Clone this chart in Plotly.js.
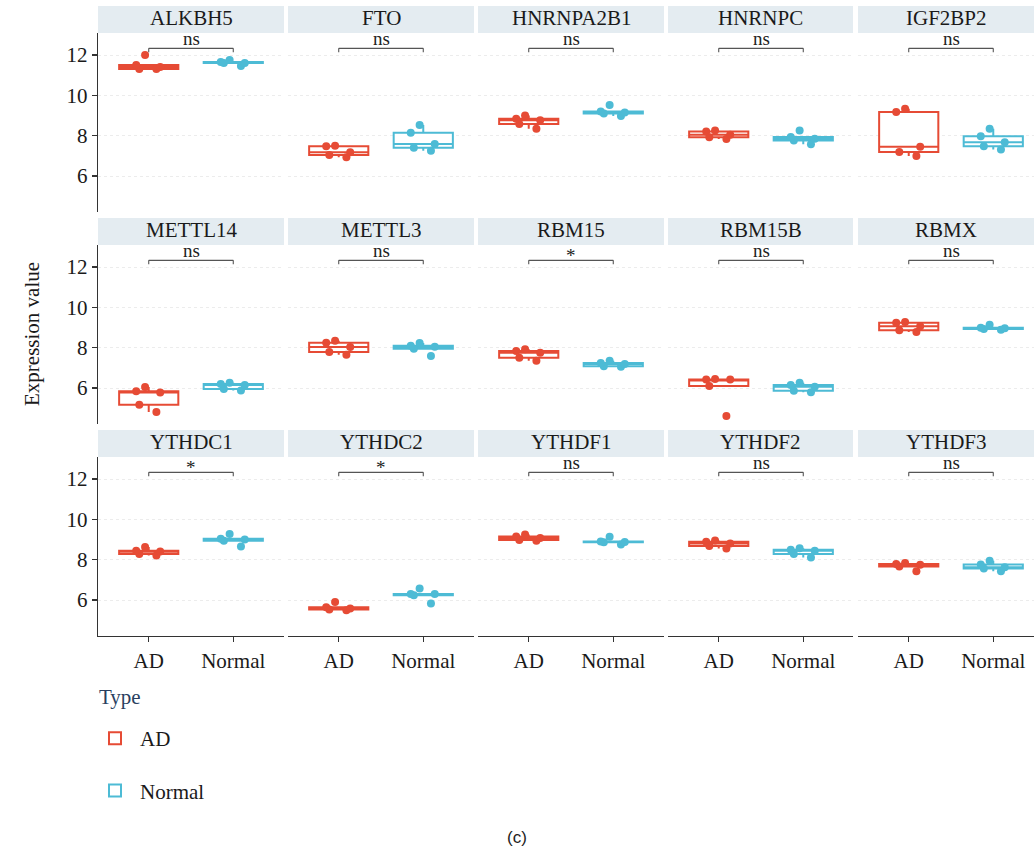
<!DOCTYPE html>
<html>
<head>
<meta charset="utf-8">
<script src="https://cdn.plot.ly/plotly-3.0.1.min.js"></script>
<style>html,body{margin:0;padding:0;background:#fff;}#chart{width:1034px;height:850px;}</style>
</head>
<body>
<div id="chart"></div>
<script>
// ---------------- data ----------------
const genes = ['ALKBH5','FTO','HNRNPA2B1','HNRNPC','IGF2BP2','METTL14','METTL3','RBM15','RBM15B','RBMX','YTHDC1','YTHDC2','YTHDF1','YTHDF2','YTHDF3'];
const groups = ['AD','Normal'];
const adValues = [
  [12.0, 11.3, 11.5, 11.3, 11.4],
  [6.93, 7.05, 7.5, 7.48, 7.18],
  [8.58, 8.35, 8.84, 9.0, 8.77],
  [8.21, 8.26, 7.84, 7.92, 8.05],
  [9.34, 9.18, 7.45, 7.19, 7.0],
  [5.78, 6.05, 5.84, 5.17, 4.81],
  [7.65, 8.03, 7.79, 8.35, 8.25],
  [7.84, 7.75, 7.92, 7.5, 7.35],
  [6.45, 6.43, 6.42, 6.1, 4.62],
  [9.06, 9.27, 9.24, 8.86, 8.78],
  [8.21, 8.63, 8.28, 8.44, 8.41],
  [5.5, 5.91, 5.65, 5.53, 5.58],
  [9.25, 8.98, 9.15, 8.94, 9.08],
  [8.68, 8.89, 8.95, 8.55, 8.8],
  [7.43, 7.79, 7.84, 7.66, 7.75]
];
const normalValues = [
  [11.75, 11.45, 11.65, 11.6, 11.6],
  [8.53, 8.15, 7.59, 7.26, 7.4],
  [9.52, 9.2, 8.98, 9.15, 9.1],
  [8.26, 7.94, 7.76, 7.58, 7.85],
  [8.35, 7.97, 7.68, 7.48, 7.32],
  [6.26, 5.88, 6.2, 6.15, 5.95],
  [7.59, 8.23, 7.95, 8.05, 8.1],
  [7.35, 7.19, 7.06, 7.08, 7.24],
  [6.15, 6.27, 5.79, 5.87, 6.06],
  [8.89, 8.99, 9.14, 8.97, 8.93],
  [8.94, 9.27, 9.04, 8.66, 9.0],
  [6.57, 6.24, 6.3, 6.3, 5.83],
  [8.88, 8.9, 9.14, 8.76, 8.87],
  [8.57, 8.28, 8.49, 8.11, 8.44],
  [7.43, 7.95, 7.76, 7.56, 7.63]
];
const pLabels = ['ns','ns','ns','ns','ns','ns','ns','*','ns','ns','*','*','ns','ns','ns'];
const yTicks = [6, 8, 10, 12];

// ---------------- style ----------------
const W = 1034, H = 850;
const FONT = '"Liberation Serif", "DejaVu Serif", serif';
const FS = 21;
const colors = {AD: '#E64B35', Normal: '#4DBBD5'};
const colBounds = [[98,284],[288,474],[478,664],[668,853],[858,1034]];
const pxPerCat = 186 / 2.2;
const rowTop0 = 33, rowPitch = 212, panelH = 179, stripH = 27;
const yRange = [4.22, 13.09];
const bracketTop = 12.33, bracketFoot = 12.13;
const px = x => x / W;
const py = y => 1 - y / H;

const data = [];
const layout = {
  width: W, height: H,
  margin: {l: 0, r: 0, t: 0, b: 0},
  paper_bgcolor: '#fff', plot_bgcolor: '#fff',
  font: {family: FONT, size: FS, color: '#1a1a1a'},
  boxmode: 'overlay',
  showlegend: true,
  legend: {
    x: px(90), y: py(718), xanchor: 'left', yanchor: 'top',
    font: {family: FONT, size: FS, color: '#1a1a1a'},
    tracegroupgap: 22, itemwidth: 40, bgcolor: 'rgba(0,0,0,0)'
  },
  shapes: [], annotations: []
};

genes.forEach((gene, i) => {
  const r = Math.floor(i / 5), c = i % 5;
  const n = i + 1;
  const xa = 'x' + (n === 1 ? '' : n), ya = 'y' + (n === 1 ? '' : n);
  const [x0, x1] = colBounds[c];
  const top = rowTop0 + rowPitch * r, bot = top + panelH;
  const xr = [-0.6, -0.6 + (x1 - x0) / pxPerCat];
  const isBottom = r === 2, isLeft = c === 0;

  layout['xaxis' + (n === 1 ? '' : n)] = {
    domain: [px(x0), px(x1)], anchor: ya, type: 'category',
    categoryorder: 'array', categoryarray: groups, range: xr,
    showgrid: false, zeroline: false,
    showline: isBottom, linecolor: '#333', linewidth: 1.3,
    ticks: isBottom ? 'outside' : '', ticklen: 5, tickwidth: 1.3, tickcolor: '#333',
    showticklabels: isBottom, tickfont: {family: FONT, size: FS, color: '#1a1a1a'},
    fixedrange: true
  };
  layout['yaxis' + (n === 1 ? '' : n)] = {
    domain: [py(bot), py(top)], anchor: xa, range: yRange,
    tickvals: yTicks, showgrid: true, gridcolor: '#ececec', griddash: 'dot', gridwidth: 1,
    zeroline: false,
    showline: isLeft, linecolor: '#333', linewidth: 1.3,
    ticks: isLeft ? 'outside' : '', ticklen: 5, tickwidth: 1.3, tickcolor: '#333',
    showticklabels: isLeft, tickfont: {family: FONT, size: FS, color: '#1a1a1a'},
    fixedrange: true
  };

  const series = {AD: adValues[i], Normal: normalValues[i]};
  groups.forEach(g => {
    const vals = series[g];
    data.push({
      type: 'box', name: g, legendgroup: g, showlegend: i === 0,
      x: vals.map(() => g), y: vals, xaxis: xa, yaxis: ya,
      boxpoints: 'outliers', quartilemethod: 'inclusive',
      width: 0.7, whiskerwidth: 0,
      fillcolor: '#ffffff', line: {color: colors[g], width: 2},
      marker: {size: 6, color: colors[g], opacity: 0}
    });
    data.push({
      type: 'box', name: g, legendgroup: g, showlegend: false,
      x: vals.map(() => g), y: vals, xaxis: xa, yaxis: ya,
      boxpoints: 'all', jitter: 0.5, pointpos: 0, quartilemethod: 'inclusive',
      width: 0.7, whiskerwidth: 0,
      fillcolor: 'rgba(0,0,0,0)', line: {color: 'rgba(0,0,0,0)', width: 0},
      marker: {size: 8, color: colors[g], opacity: 1}
    });
  });

  // strip
  layout.shapes.push({type: 'rect', xref: 'paper', yref: 'paper',
    x0: px(x0), x1: px(x1), y0: py(top), y1: py(top - stripH),
    fillcolor: '#E4ECF1', line: {width: 0}, layer: 'below'});
  layout.annotations.push({xref: 'paper', yref: 'paper', x: px((x0 + x1) / 2), y: py(top - stripH / 2),
    text: gene, showarrow: false, xanchor: 'center', yanchor: 'middle', yshift: 2, borderpad: 0,
    font: {family: FONT, size: FS, color: '#1a1a1a'}});

  // significance bracket
  const bl = {color: '#555', width: 1.1};
  layout.shapes.push({type: 'line', xref: xa, yref: ya, x0: groups[0], x1: groups[0], y0: bracketFoot, y1: bracketTop, line: bl});
  layout.shapes.push({type: 'line', xref: xa, yref: ya, x0: groups[0], x1: groups[1], y0: bracketTop, y1: bracketTop, line: bl});
  layout.shapes.push({type: 'line', xref: xa, yref: ya, x0: groups[1], x1: groups[1], y0: bracketFoot, y1: bracketTop, line: bl});
  const star = pLabels[i] === '*';
  layout.annotations.push({xref: xa, yref: ya, x: 0.5, y: bracketTop, text: pLabels[i],
    showarrow: false, xanchor: 'center', yanchor: 'bottom', yshift: star ? -7 : -2, borderpad: 0,
    font: {family: FONT, size: 19, color: '#222'}});
});

// legend title
layout.annotations.push({xref: 'paper', yref: 'paper', x: px(97), y: py(697), text: 'Type',
  showarrow: false, xanchor: 'left', yanchor: 'middle',
  font: {family: FONT, size: FS, color: '#2a3f5f'}});
// y-axis title
layout.annotations.push({xref: 'paper', yref: 'paper', x: px(32), y: py(334), text: 'Expression value',
  textangle: -90, showarrow: false, xanchor: 'center', yanchor: 'middle',
  font: {family: FONT, size: FS, color: '#1a1a1a'}});
// caption
layout.annotations.push({xref: 'paper', yref: 'paper', x: px(517), y: py(837), text: '(c)',
  showarrow: false, xanchor: 'center', yanchor: 'middle',
  font: {family: '"Liberation Sans", sans-serif', size: 17, color: '#222'}});

Plotly.newPlot('chart', data, layout, {displayModeBar: false, staticPlot: true});
</script>
</body>
</html>
